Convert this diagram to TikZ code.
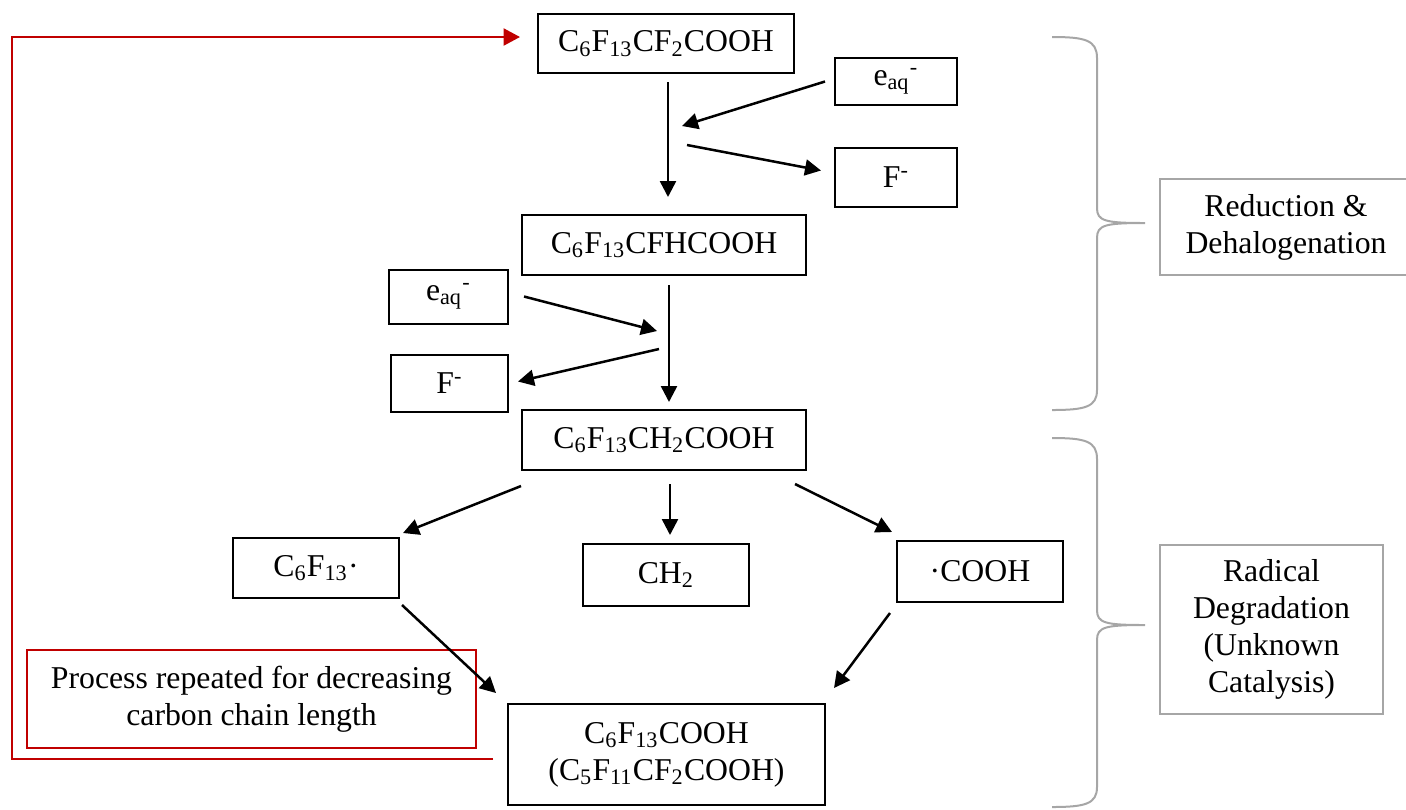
\documentclass[tikz,border=0pt]{standalone}
\usepackage{fontspec}
\setmainfont{Liberation Serif}
\usetikzlibrary{arrows.meta}

\definecolor{loopred}{RGB}{192,0,0}
\definecolor{bracegray}{RGB}{166,166,166}

\begin{document}
\begin{tikzpicture}[
    x=0.4pt, y=-0.4pt,
    box style/.style={
        draw,
        line width=0.8pt,
        inner sep=0pt,
        align=center,
        font=\fontsize{12.7}{14.8}\selectfont
    },
    note style/.style={
        box style,
        draw=bracegray
    },
    repeat style/.style={
        box style,
        draw=loopred
    },
    arrow style/.style={
        line width=1pt,
        -{Triangle[length=6.4pt,width=6.4pt]}
    },
    loop style/.style={
        line width=1pt,
        draw=loopred,
        -{Triangle[length=6.6pt,width=6.8pt]}
    },
    brace style/.style={
        line width=0.8pt,
        draw=bracegray
    }
]

% One unit is one pixel of the page
\def\px{0.4pt}
\useasboundingbox (0,0) rectangle (1406,809);

% Main chain
\node[box style, minimum width=256*\px, minimum height=59*\px] (A) at (666,43.5) {C\textsubscript{6}F\textsubscript{13}CF\textsubscript{2}COOH};
\node[box style, minimum width=284*\px, minimum height=60*\px] (B) at (664,245) {C\textsubscript{6}F\textsubscript{13}CFHCOOH};
\node[box style, minimum width=284*\px, minimum height=60*\px] (C) at (664,440) {C\textsubscript{6}F\textsubscript{13}CH\textsubscript{2}COOH};
\node[box style, minimum width=317*\px, minimum height=101*\px] (D) at (666.5,754.5) {C\textsubscript{6}F\textsubscript{13}COOH\\(C\textsubscript{5}F\textsubscript{11}CF\textsubscript{2}COOH)};

% Electrons and fluoride
\node[box style, minimum width=122*\px, minimum height=47*\px] (e1) at (896,81.5) {e\textsubscript{aq}\textsuperscript{-}};
\node[box style, minimum width=122*\px, minimum height=59*\px] (F1) at (896,177.5) {F\textsuperscript{-}};
\node[box style, minimum width=119*\px, minimum height=54*\px] (e2) at (448.5,296.5) {e\textsubscript{aq}\textsuperscript{-}};
\node[box style, minimum width=117*\px, minimum height=57*\px] (F2) at (449.5,383.5) {F\textsuperscript{-}};

% Radical fragments
\node[box style, minimum width=166*\px, minimum height=60*\px] (R1) at (316,568) {C\textsubscript{6}F\textsubscript{13}·};
\node[box style, minimum width=166*\px, minimum height=62*\px] (R2) at (666,575) {CH\textsubscript{2}};
\node[box style, minimum width=166*\px, minimum height=61*\px] (R3) at (980,571.5) {·COOH};

% Side notes
\node[repeat style, minimum width=449*\px, minimum height=98*\px] (P) at (251.5,699) {Process repeated for decreasing\\carbon chain length};
\node[note style, minimum width=252*\px, minimum height=96*\px] (N1) at (1286,227) {Reduction \&\\Dehalogenation};
\node[note style, minimum width=223*\px, minimum height=169*\px] (N2) at (1271.5,629.5) {Radical\\Degradation\\(Unknown\\Catalysis)};

% Meeting points beside the chain
\coordinate (m1) at (682,126);
\coordinate (m2) at (687,145);
\coordinate (m3) at (657,331);
\coordinate (m4) at (659,349);
\coordinate (turn) at (12,759);

% Reduction steps
\draw[arrow style] ([shift={(2,8)}]A.south) -- ([shift={(4,-17)}]B.north);
\draw[arrow style] ([shift={(-9,0)}]e1.west) -- (m1);
\draw[arrow style] (m2) -- ([shift={(-13,-7)}]F1.west);
\draw[arrow style] ([shift={(5,9)}]B.south) -- ([shift={(5,-7)}]C.north);
\draw[arrow style] ([shift={(15,0)}]e2.east) -- (m3);
\draw[arrow style] (m4) -- ([shift={(9,-2)}]F2.east);

% Radical degradation
\draw[arrow style] ([shift={(0,15)}]C.south west) -- ([shift={(3,-4)}]R1.north east);
\draw[arrow style] ([shift={(6,13)}]C.south) -- ([shift={(4,-8)}]R2.north);
\draw[arrow style] ([shift={(-12,13)}]C.south east) -- ([shift={(-4,-8)}]R3.north west);
\draw[arrow style] ([shift={(2,6)}]R1.south east) -- ([shift={(-11,-10)}]D.north west);
\draw[arrow style] ([shift={(-6,10)}]R3.south west) -- ([shift={(8,-15)}]D.north east);

% Loop back to the top
\draw[loop style] ([shift={(-14,4.5)}]D.west) -- (turn) |- ([shift={(-17,-6.5)}]A.west);

% Braces
\draw[brace style] (1052,37) .. controls (1085,37) and (1097,40) .. (1097,58) -- (1097,208)
    .. controls (1097,221) and (1105,223) .. (1145,223)
    .. controls (1105,223) and (1097,225) .. (1097,238) -- (1097,390)
    .. controls (1097,407) and (1085,410) .. (1052,410);
\draw[brace style] (1052,438) .. controls (1085,438) and (1097,441) .. (1097,459) -- (1097,610)
    .. controls (1097,623) and (1105,625) .. (1145,625)
    .. controls (1105,625) and (1097,627) .. (1097,640) -- (1097,787)
    .. controls (1097,804) and (1085,807) .. (1052,807);

\end{tikzpicture}
\end{document}
